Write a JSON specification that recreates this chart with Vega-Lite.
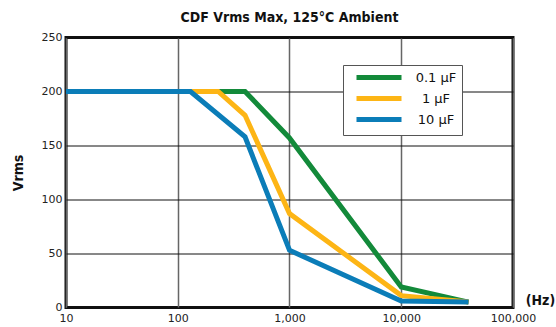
{
  "$schema": "https://vega.github.io/schema/vega-lite/v6.json",
  "width": 447,
  "height": 270,
  "autosize": {"type": "none"},
  "padding": {"left": 66, "top": 37.5, "right": 43, "bottom": 19.5},
  "background": "white",
  "title": {
    "text": "CDF Vrms Max, 125°C Ambient",
    "font": "DejaVu Sans Condensed, Liberation Sans Narrow, DejaVu Sans",
    "fontSize": 14,
    "fontWeight": "bold",
    "color": "#111",
    "anchor": "middle",
    "offset": 7
  },
  "config": {
    "font": "DejaVu Sans",
    "view": {"stroke": "#111", "strokeWidth": 3}
  },
  "data": {
    "values": [
      {"series": "0.1 μF", "freq": 10, "vrms": 200},
      {"series": "0.1 μF", "freq": 400, "vrms": 200},
      {"series": "0.1 μF", "freq": 1000, "vrms": 157},
      {"series": "0.1 μF", "freq": 10000, "vrms": 19},
      {"series": "0.1 μF", "freq": 40000, "vrms": 5},
      {"series": "1 μF", "freq": 10, "vrms": 200},
      {"series": "1 μF", "freq": 230, "vrms": 200},
      {"series": "1 μF", "freq": 400, "vrms": 178},
      {"series": "1 μF", "freq": 1000, "vrms": 87},
      {"series": "1 μF", "freq": 10000, "vrms": 11},
      {"series": "1 μF", "freq": 40000, "vrms": 5},
      {"series": "10 μF", "freq": 10, "vrms": 200},
      {"series": "10 μF", "freq": 130, "vrms": 200},
      {"series": "10 μF", "freq": 400, "vrms": 158},
      {"series": "10 μF", "freq": 1000, "vrms": 53},
      {"series": "10 μF", "freq": 10000, "vrms": 6},
      {"series": "10 μF", "freq": 40000, "vrms": 5}
    ]
  },
  "mark": {"type": "line", "strokeWidth": 5, "strokeJoin": "miter", "clip": true},
  "encoding": {
    "x": {
      "field": "freq",
      "type": "quantitative",
      "scale": {"type": "log", "domain": [10, 100000], "nice": false},
      "axis": {
        "values": [10, 100, 1000, 10000, 100000],
        "format": ",",
        "domain": false,
        "ticks": false,
        "grid": true,
        "gridColor": "#666",
        "gridWidth": 1.5,
        "gridOpacity": 1,
        "labelFontSize": 11,
        "labelColor": "#222",
        "labelPadding": 5,
        "labelFlush": false,
        "title": "(Hz)",
        "titleFont": "DejaVu Sans Condensed, Liberation Sans Narrow, DejaVu Sans",
        "titleFontSize": 14,
        "titleFontWeight": "bold",
        "titleColor": "#111",
        "titleX": 474,
        "titleY": -7,
        "titleAlign": "center",
        "titleBaseline": "middle"
      }
    },
    "y": {
      "field": "vrms",
      "type": "quantitative",
      "scale": {"domain": [0, 250], "nice": false},
      "axis": {
        "values": [0, 50, 100, 150, 200, 250],
        "domain": false,
        "ticks": false,
        "grid": true,
        "gridColor": "#111",
        "gridWidth": 1,
        "gridOpacity": 1,
        "labelFontSize": 11,
        "labelColor": "#222",
        "labelPadding": 4,
        "labelFlush": false,
        "title": "Vrms",
        "titleFont": "DejaVu Sans Condensed, Liberation Sans Narrow, DejaVu Sans",
        "titleFontSize": 14,
        "titleFontWeight": "bold",
        "titleColor": "#111",
        "titleX": -48,
        "titleY": 135,
        "titleAlign": "center",
        "titleBaseline": "middle"
      }
    },
    "color": {
      "field": "series",
      "type": "nominal",
      "scale": {
        "domain": ["0.1 μF", "1 μF", "10 μF"],
        "range": ["#138a3a", "#fdb515", "#0b7db8"]
      },
      "legend": {
        "title": null,
        "orient": "none",
        "legendX": 277,
        "legendY": 27.5,
        "padding": 5,
        "strokeColor": "#555",
        "fillColor": "white",
        "symbolType": "M-1,0H8",
        "symbolSize": 100,
        "symbolOffset": 6,
        "symbolStrokeWidth": 5,
        "rowPadding": 0,
        "labelFontSize": 13,
        "labelColor": "#111",
        "labelAlign": "center",
        "labelOffset": 67
      }
    }
  }
}
